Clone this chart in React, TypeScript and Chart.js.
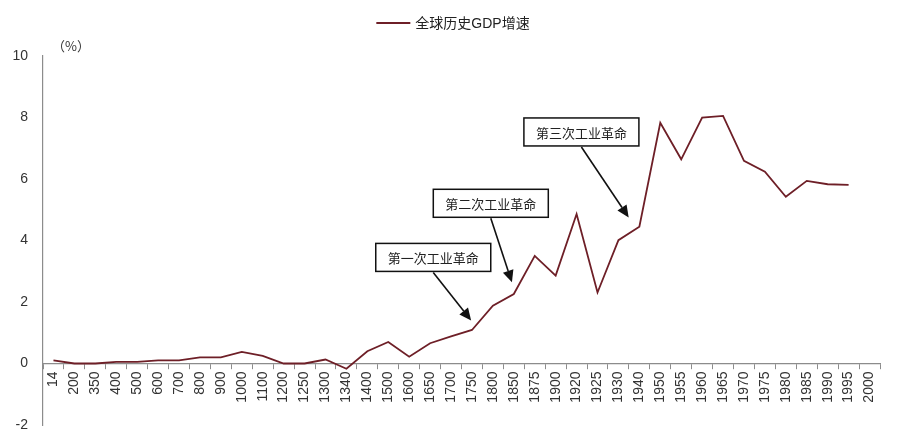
import React, { useEffect, useRef } from 'react';
import { Chart, registerables } from 'chart.js';

Chart.register(...registerables);

const categories = [
  '14', '200', '350', '400', '500', '600', '700', '800', '900', '1000',
  '1100', '1200', '1250', '1300', '1340', '1400', '1500', '1600', '1650', '1700',
  '1750', '1800', '1850', '1875', '1900', '1920', '1925', '1930', '1940', '1950',
  '1955', '1960', '1965', '1970', '1975', '1980', '1985', '1990', '1995', '2000',
];

const gdpGrowth: (number | null)[] = [
  0.1, 0, 0, 0.05, 0.05, 0.1, 0.1, 0.2, 0.2, 0.38,
  0.25, 0, 0, 0.13, -0.17, 0.4, 0.7, 0.22, 0.66, 0.88,
  1.09, 1.88, 2.26, 3.5, 2.86, 4.86, 2.31, 4.01, 4.45, 7.83,
  6.64, 8.0, 8.05, 6.59, 6.24, 5.42, 5.94, 5.83, 5.81, null,
];

const seriesLabel = '全球历史GDP增速';
const unitLabel = '（%）';
const yMin = -2;
const yMax = 10;
const yStep = 2;

// annotation boxes and arrows, in data coordinates (category index, value)
const annotationLabels = ['第一次工业革命', '第二次工业革命', '第三次工业革命'];
const annotationBoxX = [18.15, 20.9, 25.23];
const annotationBoxY = [3.45, 5.21, 7.53];
const annotationTipX = [19.96, 21.91, 27.49];
const annotationTipY = [1.4, 2.64, 4.75];

const LINE_COLOR = '#6e1f27';
const AXIS_COLOR = '#8c8c8c';
const TEXT_COLOR = '#333333';
const LATIN_FONT = '"Liberation Sans", Arial, sans-serif';
const CJK_FONT = '"Liberation Sans", "Noto Sans CJK SC", sans-serif';

const overlayPlugin = {
  id: 'overlay',
  afterDatasetsDraw(chart: any) {
    const ctx: CanvasRenderingContext2D = chart.ctx;
    const xs = chart.scales.x;
    const ys = chart.scales.y;
    const area = chart.chartArea;
    ctx.save();

    // legend
    ctx.font = '14px ' + CJK_FONT;
    const textW = ctx.measureText(seriesLabel).width;
    const lineW = 34;
    const gap = 5;
    const total = lineW + gap + textW;
    const lx = chart.width / 2 - total / 2 + 3;
    const ly = area.top - 33;
    ctx.strokeStyle = LINE_COLOR;
    ctx.lineWidth = 2;
    ctx.beginPath();
    ctx.moveTo(lx, ly);
    ctx.lineTo(lx + lineW, ly);
    ctx.stroke();
    ctx.fillStyle = '#222';
    ctx.textAlign = 'left';
    ctx.textBaseline = 'middle';
    ctx.fillText(seriesLabel, lx + lineW + gap, ly + 1);

    // unit label
    ctx.font = '13px "Noto Sans CJK SC", sans-serif';
    ctx.fillStyle = TEXT_COLOR;
    ctx.fillText(unitLabel, area.left + 9, area.top - 10);

    // annotations
    ctx.font = '13px "Noto Sans CJK SC", sans-serif';
    for (let i = 0; i < annotationLabels.length; i++) {
      const cx = xs.getPixelForValue(annotationBoxX[i]);
      const cy = ys.getPixelForValue(annotationBoxY[i]);
      const tw = ctx.measureText(annotationLabels[i]).width;
      const bw = tw + 24;
      const bh = 28;
      const bx = cx - bw / 2;
      const by = cy - bh / 2;
      ctx.fillStyle = '#ffffff';
      ctx.fillRect(bx, by, bw, bh);
      ctx.strokeStyle = '#111';
      ctx.lineWidth = 1.5;
      ctx.strokeRect(bx, by, bw, bh);
      ctx.fillStyle = '#222';
      ctx.textAlign = 'center';
      ctx.textBaseline = 'middle';
      ctx.fillText(annotationLabels[i], cx, cy + 1);

      // arrow
      const sx = cx;
      const sy = by + bh + 1;
      const tx = xs.getPixelForValue(annotationTipX[i]);
      const ty = ys.getPixelForValue(annotationTipY[i]);
      const ang = Math.atan2(ty - sy, tx - sx);
      const headLen = 12;
      const headW = 5.5;
      const bxp = tx - headLen * Math.cos(ang);
      const byp = ty - headLen * Math.sin(ang);
      ctx.strokeStyle = '#111';
      ctx.lineWidth = 1.6;
      ctx.beginPath();
      ctx.moveTo(sx, sy);
      ctx.lineTo(bxp, byp);
      ctx.stroke();
      ctx.fillStyle = '#111';
      ctx.beginPath();
      ctx.moveTo(tx, ty);
      ctx.lineTo(bxp + headW * Math.sin(ang), byp - headW * Math.cos(ang));
      ctx.lineTo(bxp - headW * Math.sin(ang), byp + headW * Math.cos(ang));
      ctx.closePath();
      ctx.fill();
    }
    ctx.restore();
  },
};

export default function App() {
  const canvasRef = useRef<HTMLCanvasElement | null>(null);

  useEffect(() => {
    document.body.style.margin = '0';
    const canvas = canvasRef.current;
    if (!canvas) return;
    const chart = new Chart(canvas, {
      type: 'line',
      data: {
        labels: categories,
        datasets: [
          {
            label: seriesLabel,
            data: gdpGrowth,
            borderColor: LINE_COLOR,
            backgroundColor: LINE_COLOR,
            borderWidth: 1.8,
            pointRadius: 0,
            pointHoverRadius: 0,
            tension: 0,
            fill: false,
            spanGaps: false,
          },
        ],
      },
      options: {
        responsive: false,
        animation: false,
        layout: { padding: { left: 0, right: 20, top: 56, bottom: 20 } },
        plugins: {
          legend: { display: false },
          tooltip: { enabled: false },
        },
        scales: {
          x: {
            type: 'category',
            position: { y: 0 } as any,
            offset: true,
            grid: {
              display: true,
              drawOnChartArea: false,
              drawTicks: true,
              tickLength: 5,
              offset: true,
              color: AXIS_COLOR,
            },
            border: { display: true, color: AXIS_COLOR, width: 1.2 },
            ticks: {
              autoSkip: false,
              minRotation: 90,
              maxRotation: 90,
              padding: 3,
              color: TEXT_COLOR,
              font: { size: 14, family: LATIN_FONT },
            },
          },
          y: {
            min: yMin,
            max: yMax,
            grid: { display: false, drawTicks: true, tickLength: 15 },
            border: { display: true, color: AXIS_COLOR, width: 1.2 },
            ticks: {
              stepSize: yStep,
              padding: 0,
              color: TEXT_COLOR,
              font: { size: 14, family: LATIN_FONT },
            },
            afterFit: (scale: any) => {
              scale.width = 43;
            },
          },
        },
      },
      plugins: [overlayPlugin],
    });
    return () => chart.destroy();
  }, []);

  return (
    <div style={{ width: 900, height: 445 }}>
      <canvas ref={canvasRef} width={900} height={445} />
    </div>
  );
}
